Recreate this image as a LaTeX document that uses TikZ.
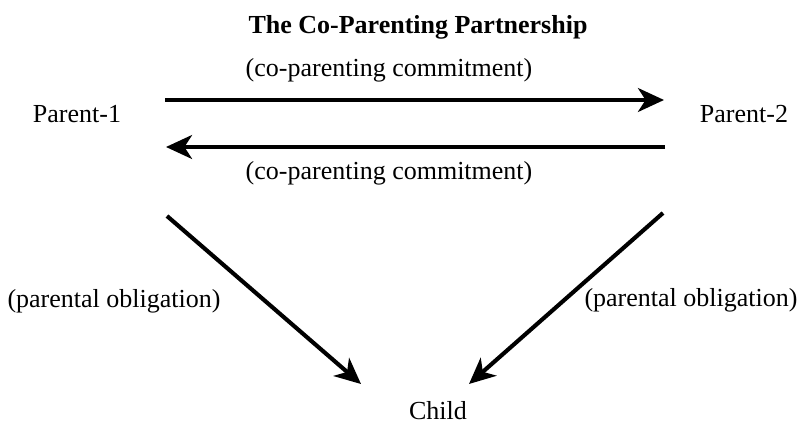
\documentclass[tikz,border=0pt]{standalone}
\usepackage{fontspec}
\setmainfont{Liberation Serif}
\usepackage{tikz}
\usetikzlibrary{arrows.meta}
\tikzstyle{arrow} = [-{Stealth[length=12pt,width=11pt,inset=3.5pt]}, line width=1.9pt]

\begin{document}
\begin{tikzpicture}[x=0.4615pt, y=-0.4615pt, every node/.style={font=\fontsize{12}{14}\selectfont}]
		\useasboundingbox (0,0) rectangle (806,435);
		\node (title) at (418,27) {\bfseries The Co-Parenting Partnership};
		\node (p1) at (77,114) {Parent-1};
		\node (p2) at (744,114) {Parent-2};
		\node (child) at (438,411) {Child};
		\node (top) at (389,70) {(co-parenting commitment)};
		\node (bottom) at (389,173) {(co-parenting commitment)};
		\node (left) at (114,301) {(parental obligation)};
		\node (right) at (691,300) {(parental obligation)};
		
		\coordinate (a1) at (165,100);
		\coordinate (a2) at (664,100);
		\coordinate (b1) at (665,147);
		\coordinate (b2) at (166,147);
		\coordinate (c1) at (167,216);
		\coordinate (c2) at (361,384);
		\coordinate (d1) at (663,213);
		\coordinate (d2) at (469,384);
		
		\draw [arrow] (a1) -- (a2);
		\draw [arrow] (b1) -- (b2);
		\draw [arrow] (c1) -- (c2);
		\draw [arrow] (d1) -- (d2);
	\end{tikzpicture}
\end{document}
